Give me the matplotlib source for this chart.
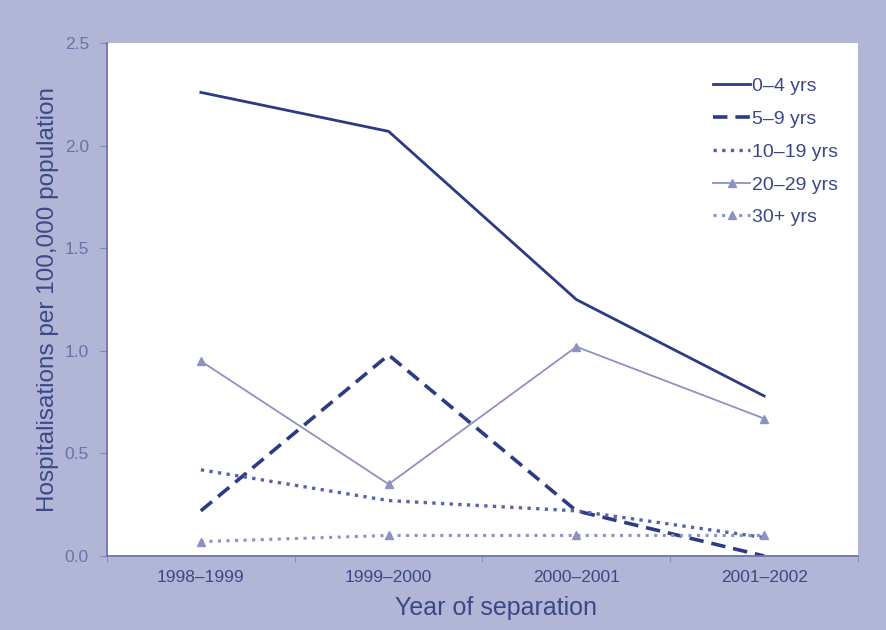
import matplotlib.pyplot as plt
from matplotlib.ticker import FixedLocator, FormatStrFormatter

# data
years = ["1998–1999", "1999–2000", "2000–2001", "2001–2002"]
age_0_4 = [2.26, 2.07, 1.25, 0.78]
age_5_9 = [0.22, 0.98, 0.22, 0.0]
age_10_19 = [0.42, 0.27, 0.22, 0.09]
age_20_29 = [0.95, 0.35, 1.02, 0.67]
age_30_plus = [0.07, 0.10, 0.10, 0.10]

plt.rcParams["font.family"] = ["Liberation Sans", "DejaVu Sans"]

BG = "#b1b5d6"
TXT = "#3b4888"
DARK = "#2c3b84"
MID = "#5763a6"
LIGHT = "#8d92c2"

fig = plt.figure(figsize=(8.87, 6.3), dpi=100, facecolor=BG)
ax = fig.add_axes([0.1206, 0.1175, 0.8467, 0.814])
ax.set_facecolor("white")

x = list(range(len(years)))
ax.plot(x, age_0_4, color=DARK, lw=2.0, ls="-", label="0–4 yrs")
ax.plot(x, age_5_9, color=DARK, lw=2.6, ls=(0, (4, 2.2)), label="5–9 yrs")
ax.plot(x, age_10_19, color=MID, lw=2.4, ls=(0, (1, 1.6)), label="10–19 yrs")
ax.plot(x, age_20_29, color=LIGHT, lw=1.3, ls="-", marker="^", ms=6,
        label="20–29 yrs")
ax.plot(x, age_30_plus, color=LIGHT, lw=2.2, ls=(0, (1, 1.8)), marker="^",
        ms=6, label="30+ yrs")

ax.set_xlim(-0.5, 3.5)
ax.set_ylim(0, 2.5)
ax.set_yticks([0, 0.5, 1.0, 1.5, 2.0, 2.5])
ax.yaxis.set_major_formatter(FormatStrFormatter("%.1f"))
ax.set_xticks(x)
ax.set_xticklabels(years)
ax.xaxis.set_minor_locator(FixedLocator([-0.5, 0.5, 1.5, 2.5, 3.5]))
ax.tick_params(axis="x", which="major", length=0, pad=10, labelsize=12.5,
               labelcolor=TXT)
ax.tick_params(axis="x", which="minor", length=4, color="#7d84b8")
ax.tick_params(axis="y", length=5, color="#7d84b8", labelsize=12.5,
               labelcolor="#6a72a8", pad=8)

for side in ["top", "right"]:
    ax.spines[side].set_visible(False)
for side in ["left", "bottom"]:
    ax.spines[side].set_color("#6c74ac")
    ax.spines[side].set_linewidth(1.3)

ax.set_xlabel("Year of separation", fontsize=18, color=TXT)
ax.xaxis.set_label_coords(0.518, -0.078)
ax.set_ylabel("Hospitalisations per 100,000 population", fontsize=17.5,
              color=TXT, labelpad=4)

leg = ax.legend(loc="upper right", frameon=False, fontsize=14,
                handlelength=1.9, handletextpad=0.1, labelspacing=0.78,
                bbox_to_anchor=(0.997, 0.967))
for t in leg.get_texts():
    t.set_color(TXT)

fig.savefig("out.png", dpi=100, facecolor=BG)
